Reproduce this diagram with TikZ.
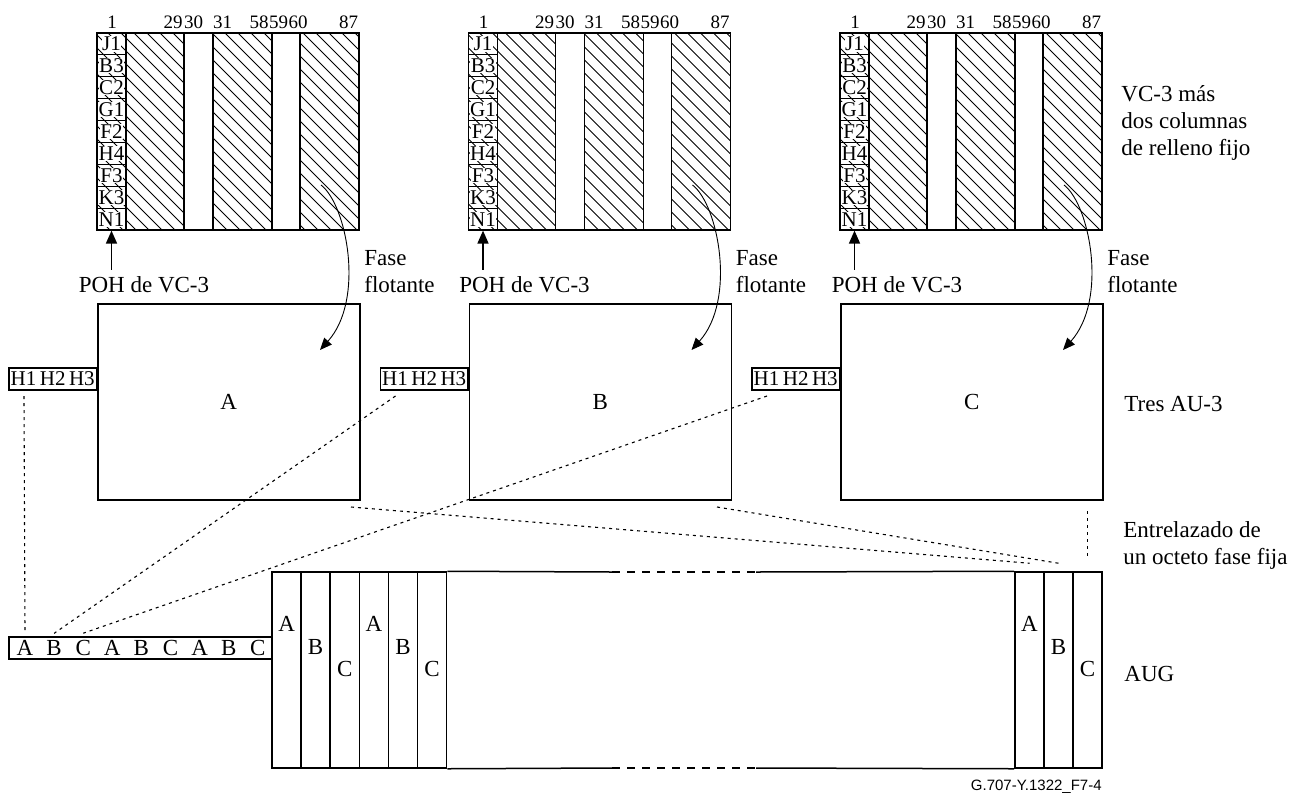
\documentclass[tikz,border=0pt]{standalone}
\usepackage{fontspec}
\setmainfont{Liberation Serif}
\setsansfont{Liberation Sans}
\usetikzlibrary{arrows.meta, positioning}

\begin{document}
\begin{tikzpicture}[
  x=0.5pt, y=-0.5pt,
  font=\fontsize{11.5}{13.5}\selectfont,
  vcframe/.style={draw, line width=0.75pt},
  hatchline/.style={line width=0.4pt},
  cellbox/.style={draw, line width=0.6pt, minimum width=14.5pt, minimum height=10.94pt, inner sep=0pt},
  pohtxt/.style={fill=white, inner sep=0.3pt, font=\fontsize{10.5}{10.5}\selectfont},
  colnum/.style={anchor=base, inner sep=0pt, font=\fontsize{9.5}{9.5}\selectfont},
  aubox/.style={draw, line width=0.75pt, minimum width=131pt, minimum height=98pt, anchor=north west, inner sep=0pt},
  ptrbox/.style={draw, line width=0.6pt, minimum width=43.7pt, minimum height=11pt, anchor=east, inner sep=0pt, font=\fontsize{10.5}{10.5}\selectfont},
  augcol/.style={draw, line width=0.75pt, minimum width=14.55pt, minimum height=98pt, inner sep=0pt},
  sidelbl/.style={anchor=west, align=left, inner sep=0pt},
  dotline/.style={dash pattern=on 1.5pt off 2pt, line width=0.55pt},
  pointarr/.style={-{Triangle[length=6.5pt, width=5.5pt]}, line width=0.8pt},
  floatarr/.style={-{Triangle[length=6pt, width=5pt]}, line width=0.45pt},
]
\useasboundingbox (0,0) rectangle (1304,798);

% three VC-3 and their AU-3
\foreach \n/\tag/\p/\ta in {0/1/47/A, 1/2/56/B, 2/3/57/C} {
  \pgfmathsetmacro{\L}{97+371.5*\n}
  \begin{scope}[shift={(\L,0)}]
    \begin{scope}
      \clip (0,33) rectangle (87,230) (116,33) rectangle (175,230) (203,33) rectangle (262,230);
      \foreach \h in {-197,-184,...,262}
        \draw[hatchline] (\h,33) -- ++(197,197);
    \end{scope}
    \foreach \t [count=\k] in {J1,B3,C2,G1,F2,H4,F3,K3,N1} {
      \node[cellbox] (c\tag-\k) at (14.5,{33+21.89*(\k-0.5)}) {};
      \node[pohtxt] at (c\tag-\k) {\t};
    }
    \draw[vcframe] (0,33) rectangle (262,230);
    \foreach \v in {87,116,175,203}
      \draw[vcframe] (\v,33) -- (\v,230);
    \foreach \c/\cx in {1/15,29/76,30/96.5,31/125.5,58/162,59/181.5,60/201,87/251.5}
      \node[colnum] (num\tag-\c) at (\cx,28) {\c};

    \node (pohlbl\tag) at (\p,285) {POH de VC-3};
    \draw[pointarr] (c\tag-9.south |- pohlbl\tag.north) -- (c\tag-9.south);

    \node[sidelbl] (fase\tag) at (267,272) {Fase\\flotante};
    \coordinate (float\tag) at (224,185);
    \coordinate (land\tag) at (223,350);
    \draw[floatarr] (float\tag) .. controls (250,205) and (268,300) .. (land\tag);

    \node[aubox] (au\tag) at (0,303) {\ta};
    \node[ptrbox] (ptr\tag) at (0,379) {H1\,H2\,H3};
    \coordinate (h1\tag) at (-73,396);
  \end{scope}
}

% byte sequence
\node[draw, line width=0.6pt, minimum width=131.5pt, minimum height=11pt, inner sep=0pt] (seqbox) at (140.5,648) {};
\foreach \t [count=\k] in {A,B,C,A,B,C,A,B,C}
  \node (seq\k) at ({25+29.1*(\k-1)},648) {\t};

% AUG
\foreach \t/\yy [count=\k] in {A/624,B/647,C/669,A/624,B/647,C/669} {
  \node[augcol] (col\k) at ({272+29.1*(\k-0.5)},670) {};
  \node at ({272+29.1*(\k-0.5)},\yy) {\t};
}
\foreach \t/\yy [count=\k] in {A/624,B/647,C/669} {
  \node[augcol] (end\k) at ({1015+29*(\k-0.5)},670) {};
  \node at ({1015+29*(\k-0.5)},\yy) {\t};
}
\coordinate (gapTL) at (612,572);
\coordinate (gapTR) at (756,572);
\coordinate (gapBL) at (612,768);
\coordinate (gapBR) at (756,768);
\draw[line width=0.75pt] (col6.north east) -- (gapTL) (gapTR) -- (end1.north west);
\draw[line width=0.75pt] (col6.south east) -- (gapBL) (gapBR) -- (end1.south west);
\draw[line width=0.75pt, dash pattern=on 3.75pt off 3.75pt] (gapTL) -- (gapTR) (gapBL) -- (gapBR);

% interleaving
\draw[dotline] (h11) -- (seq1.north);
\draw[dotline] (h12) -- (seq2.north);
\draw[dotline] (h13) -- (seq3.north);
\coordinate (tail1) at (351,507);
\coordinate (tail2) at (717,507);
\coordinate (tail3) at (1087.5,511);
\draw[dotline] (tail1) -- ([yshift=4pt]end1.north);
\draw[dotline] (tail2) -- ([yshift=4pt]end2.north);
\draw[dotline] (tail3) -- ([yshift=6pt]end3.north);

% side labels
\node[sidelbl] (vclbl) at (1121,123) {VC-3 más\\dos columnas\\de relleno fijo};
\node[sidelbl] (aulbl) at (1124,404) {Tres AU-3};
\node[sidelbl] (intlbl) at (1123,545) {Entrelazado de\\un octeto fase fija};
\node[sidelbl] (auglbl) at (1124,674) {AUG};
\node[anchor=east, font=\sffamily\fontsize{7.5}{9}\selectfont, inner sep=0pt] (figid) at (1102,787) {G.707-Y.1322\_F7-4};
\end{tikzpicture}
\end{document}
